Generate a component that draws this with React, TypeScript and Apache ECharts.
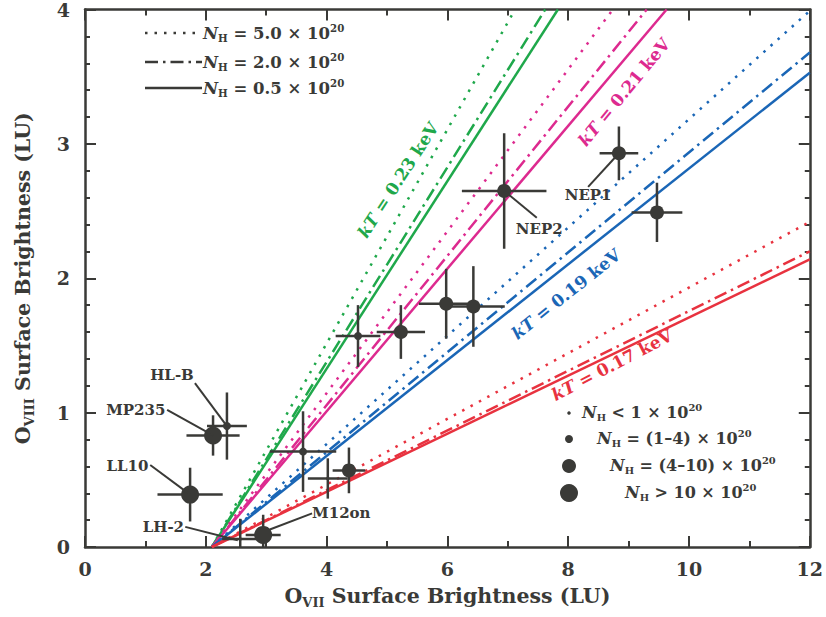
import React, { useEffect, useRef } from 'react';
import * as echarts from 'echarts';

const FONT = "'DejaVu Serif', 'Liberation Serif', serif";
const INK = '#3a3a37';

// ---- observations (O VII, O VIII surface brightness, errors, N_H class) ----
const obsX = [6.94, 8.84, 9.47, 5.98, 6.43, 5.23, 4.52, 3.61, 4.37, 4.02, 2.35, 2.12, 1.74, 2.95, 2.57];
const obsY = [2.65, 2.93, 2.49, 1.81, 1.79, 1.60, 1.57, 0.71, 0.57, 0.51, 0.90, 0.83, 0.39, 0.09, 0.06];
const obsXErr = [0.70, 0.32, 0.42, 0.45, 0.52, 0.40, 0.37, 0.55, 0.27, 0.33, 0.33, 0.44, 0.54, 0.29, 0.30];
const obsYErr = [0.43, 0.20, 0.22, 0.26, 0.30, 0.20, 0.23, 0.30, 0.17, 0.15, 0.25, 0.15, 0.20, 0.15, 0.15];
const obsNhClass = [3, 3, 3, 3, 3, 3, 2, 2, 3, 1, 2, 4, 4, 4, 1];
const nhClassSize = [0, 3.5, 8, 14, 18];

// ---- model lines: kT x N_H ----
const modelStartX = 2.1;
const modelStartY = 0;
const kTValues = ['0.23', '0.21', '0.19', '0.17'];
const kTColors = ['#1fa84b', '#dd2a8f', '#1a66b6', '#e8323f'];
const nhValues = ['5.0', '2.0', '0.5'];
const modelEndX = [
  [7.12, 7.62, 7.83],
  [8.74, 9.30, 9.63],
  [12, 12, 12],
  [12, 12, 12],
];
const modelEndY = [
  [4, 4, 4],
  [4, 4, 4],
  [3.99, 3.68, 3.53],
  [2.42, 2.20, 2.14],
];

// ---- point labels with leaders ----
const labelNames = ['HL-B', 'MP235', 'LL10', 'LH-2', 'M12on', 'NEP2', 'NEP1'];
const labelTextX = [1.44, 1.33, 1.05, 1.64, 3.76, 7.52, 8.33];
const labelTextY = [1.28, 1.02, 0.60, 0.15, 0.25, 2.37, 2.62];
const labelAlign = ['center', 'right', 'right', 'right', 'left', 'center', 'center'];
const leaderX1 = [1.82, 1.36, 1.08, 1.66, 3.76, 6.94, 8.33];
const leaderY1 = [1.22, 1.02, 0.61, 0.15, 0.25, 2.65, 2.68];
const leaderX2 = [2.35, 2.12, 1.74, 2.53, 3.06, 7.48, 8.84];
const leaderY2 = [0.90, 0.83, 0.39, 0.05, 0.13, 2.45, 2.93];

// ---- layout of annotations (pixels) ----
const kTLabelPos = [[398, 180, 57], [624, 92, 50.5], [566, 294, 38.5], [612, 365, 27.5]];

const dashStyles: any[] = [[2.5, 7], [13, 5, 2.5, 5], 'solid'];

const nhRich = (fs: number) => ({
  n: { fontStyle: 'italic', fontWeight: 'bold', fontSize: fs, fontFamily: FONT, fill: INK, lineHeight: fs + 4 },
  h: { fontWeight: 'bold', fontSize: fs * 0.62, fontFamily: FONT, fill: INK, lineHeight: fs * 0.62, verticalAlign: 'bottom' },
  t: { fontWeight: 'bold', fontSize: fs, fontFamily: FONT, fill: INK, lineHeight: fs + 4 },
  s: { fontWeight: 'bold', fontSize: fs * 0.62, fontFamily: FONT, fill: INK, lineHeight: fs * 0.62, verticalAlign: 'top' },
});

const App: React.FC = () => {
  const ref = useRef<HTMLDivElement>(null);
  useEffect(() => {
    if (!ref.current) return;
    const chart = echarts.init(ref.current, undefined, { renderer: 'svg' });

    const axisCommon = {
      type: 'value',
      axisLine: { show: true, onZero: false, lineStyle: { color: INK, width: 2.5 } },
      axisTick: { show: true, inside: true, length: 11, lineStyle: { color: INK, width: 2 } },
      minorTick: { show: true, length: 5, lineStyle: { color: INK, width: 2 } },
      splitLine: { show: false },
      minorSplitLine: { show: false },
    };
    const labelStyle = { fontSize: 19, fontWeight: 'bold', fontFamily: FONT, color: INK };
    const nameRich = {
      a: { fontSize: 20.5, fontWeight: 'bold', fontFamily: FONT, color: INK, lineHeight: 26 },
      sub: { fontSize: 13, fontWeight: 'bold', fontFamily: FONT, color: INK, lineHeight: 13, verticalAlign: 'bottom' },
    };

    const series: any[] = [];
    kTValues.forEach((kt, i) => {
      nhValues.forEach((nh, j) => {
        series.push({
          type: 'line',
          name: `kT=${kt} NH=${nh}`,
          data: [[modelStartX, modelStartY], [modelEndX[i][j], modelEndY[i][j]]],
          symbol: 'none',
          clip: true,
          silent: true,
          lineStyle: { color: kTColors[i], width: 2.5, type: dashStyles[j], cap: 'butt' },
          z: 2,
        });
      });
    });

    series.push({
      type: 'custom',
      name: 'errors',
      clip: true,
      silent: true,
      z: 3,
      data: obsX.map((x, i) => [x, obsY[i], obsXErr[i], obsYErr[i]]),
      renderItem: (params: any, api: any) => {
        const x = api.value(0), y = api.value(1), ex = api.value(2), ey = api.value(3);
        const l = api.coord([x - ex, y]);
        const r = api.coord([x + ex, y]);
        const t = api.coord([x, y + ey]);
        const b = api.coord([x, y - ey]);
        const st = { stroke: INK, lineWidth: 2.5 };
        return {
          type: 'group',
          children: [
            { type: 'line', shape: { x1: l[0], y1: l[1], x2: r[0], y2: r[1] }, style: st },
            { type: 'line', shape: { x1: t[0], y1: t[1], x2: b[0], y2: b[1] }, style: st },
          ],
        };
      },
    });

    series.push({
      type: 'scatter',
      name: 'obs',
      data: obsX.map((x, i) => [x, obsY[i], obsNhClass[i]]),
      symbol: 'circle',
      symbolSize: (v: number[]) => nhClassSize[v[2]],
      itemStyle: { color: INK, opacity: 1 },
      silent: true,
      z: 4,
    });

    series.push({
      type: 'custom',
      name: 'labels',
      silent: true,
      clip: false,
      z: 5,
      data: labelNames.map((_, i) => [leaderX1[i], leaderY1[i], leaderX2[i], leaderY2[i], labelTextX[i], labelTextY[i]]),
      renderItem: (params: any, api: any) => {
        const i = params.dataIndex;
        const p1 = api.coord([api.value(0), api.value(1)]);
        const p2 = api.coord([api.value(2), api.value(3)]);
        const pt = api.coord([api.value(4), api.value(5)]);
        return {
          type: 'group',
          children: [
            { type: 'line', shape: { x1: p1[0], y1: p1[1], x2: p2[0], y2: p2[1] }, style: { stroke: INK, lineWidth: 2 } },
            {
              type: 'text',
              x: pt[0],
              y: pt[1],
              style: {
                text: labelNames[i],
                fill: INK,
                fontSize: 15,
                fontWeight: 'bold',
                fontFamily: FONT,
                align: labelAlign[i],
                verticalAlign: 'middle',
              },
            },
          ],
        };
      },
    });

    const graphic: any[] = [];
    // kT labels
    kTValues.forEach((kt, i) => {
      const [px, py, rot] = kTLabelPos[i];
      graphic.push({
        type: 'text',
        x: px,
        y: py,
        rotation: (rot * Math.PI) / 180,
        style: {
          text: `{i|kT}{b| = ${kt} keV}`,
          align: 'center',
          verticalAlign: 'middle',
          rich: {
            i: { fontStyle: 'italic', fontWeight: 'bold', fontSize: 17, fontFamily: FONT, fill: kTColors[i] },
            b: { fontWeight: 'bold', fontSize: 17, fontFamily: FONT, fill: kTColors[i] },
          },
        },
        z: 10,
      });
    });
    // N_H line-style legend (top left)
    const legRowY = [33, 62, 88];
    nhValues.forEach((nh, j) => {
      graphic.push({
        type: 'line',
        shape: { x1: 145, y1: legRowY[j], x2: 202, y2: legRowY[j] },
        style: { stroke: INK, lineWidth: 2.5, lineDash: dashStyles[j] === 'solid' ? null : dashStyles[j] },
        z: 10,
      });
      graphic.push({
        type: 'text',
        x: 203,
        y: legRowY[j],
        style: {
          text: `{n|N}{h|H}{t| = ${nh} × 10}{s|20}`,
          align: 'left',
          verticalAlign: 'middle',
          rich: nhRich(16.5),
        },
        z: 10,
      });
    });
    // N_H marker-size legend (lower right)
    const sizeLegText = ['{n|N}{h|H}{t| < 1 × 10}{s|20}', '{n|N}{h|H}{t| = (1–4) × 10}{s|20}', '{n|N}{h|H}{t| = (4–10) × 10}{s|20}', '{n|N}{h|H}{t| > 10 × 10}{s|20}'];
    const sizeLegY = [413, 439, 466, 493];
    const sizeLegTextX = [582, 597, 610, 625];
    sizeLegText.forEach((t, k) => {
      graphic.push({
        type: 'circle',
        shape: { cx: 569, cy: sizeLegY[k], r: nhClassSize[k + 1] / 2 },
        style: { fill: INK },
        z: 10,
      });
      graphic.push({
        type: 'text',
        x: sizeLegTextX[k],
        y: sizeLegY[k] - 1,
        style: { text: t, align: 'left', verticalAlign: 'middle', rich: nhRich(16) },
        z: 10,
      });
    });

    chart.setOption({
      animation: false,
      backgroundColor: '#ffffff',
      grid: { left: 85, right: 16, top: 9, bottom: 70, containLabel: false },
      xAxis: [
        {
          ...axisCommon,
          position: 'bottom',
          min: 0,
          max: 12,
          interval: 2,
          minorTick: { ...axisCommon.minorTick, splitNumber: 2, length: 6 },
          axisLabel: { ...labelStyle, margin: 12 },
          name: '{a|O}{sub|VII}{a| Surface Brightness (LU)}',
          nameLocation: 'middle',
          nameGap: 36,
          nameTextStyle: { rich: nameRich },
        },
        {
          ...axisCommon,
          position: 'top',
          min: 0,
          max: 12,
          interval: 2,
          minorTick: { ...axisCommon.minorTick, splitNumber: 2, length: 6 },
          axisLabel: { show: false },
        },
      ],
      yAxis: [
        {
          ...axisCommon,
          position: 'left',
          min: 0,
          max: 4,
          interval: 1,
          minorTick: { ...axisCommon.minorTick, splitNumber: 5 },
          axisLabel: { ...labelStyle, margin: 15 },
          name: '{a|O}{sub|VIII}{a| Surface Brightness (LU)}',
          nameLocation: 'middle',
          nameGap: 49,
          nameTextStyle: { rich: nameRich },
        },
        {
          ...axisCommon,
          position: 'right',
          min: 0,
          max: 4,
          interval: 1,
          minorTick: { ...axisCommon.minorTick, splitNumber: 5 },
          axisLabel: { show: false },
        },
      ],
      series,
      graphic,
    });

    return () => chart.dispose();
  }, []);

  return <div ref={ref} style={{ position: 'absolute', left: 0, top: 0, width: 826, height: 617 }} />;
};

export default App;
